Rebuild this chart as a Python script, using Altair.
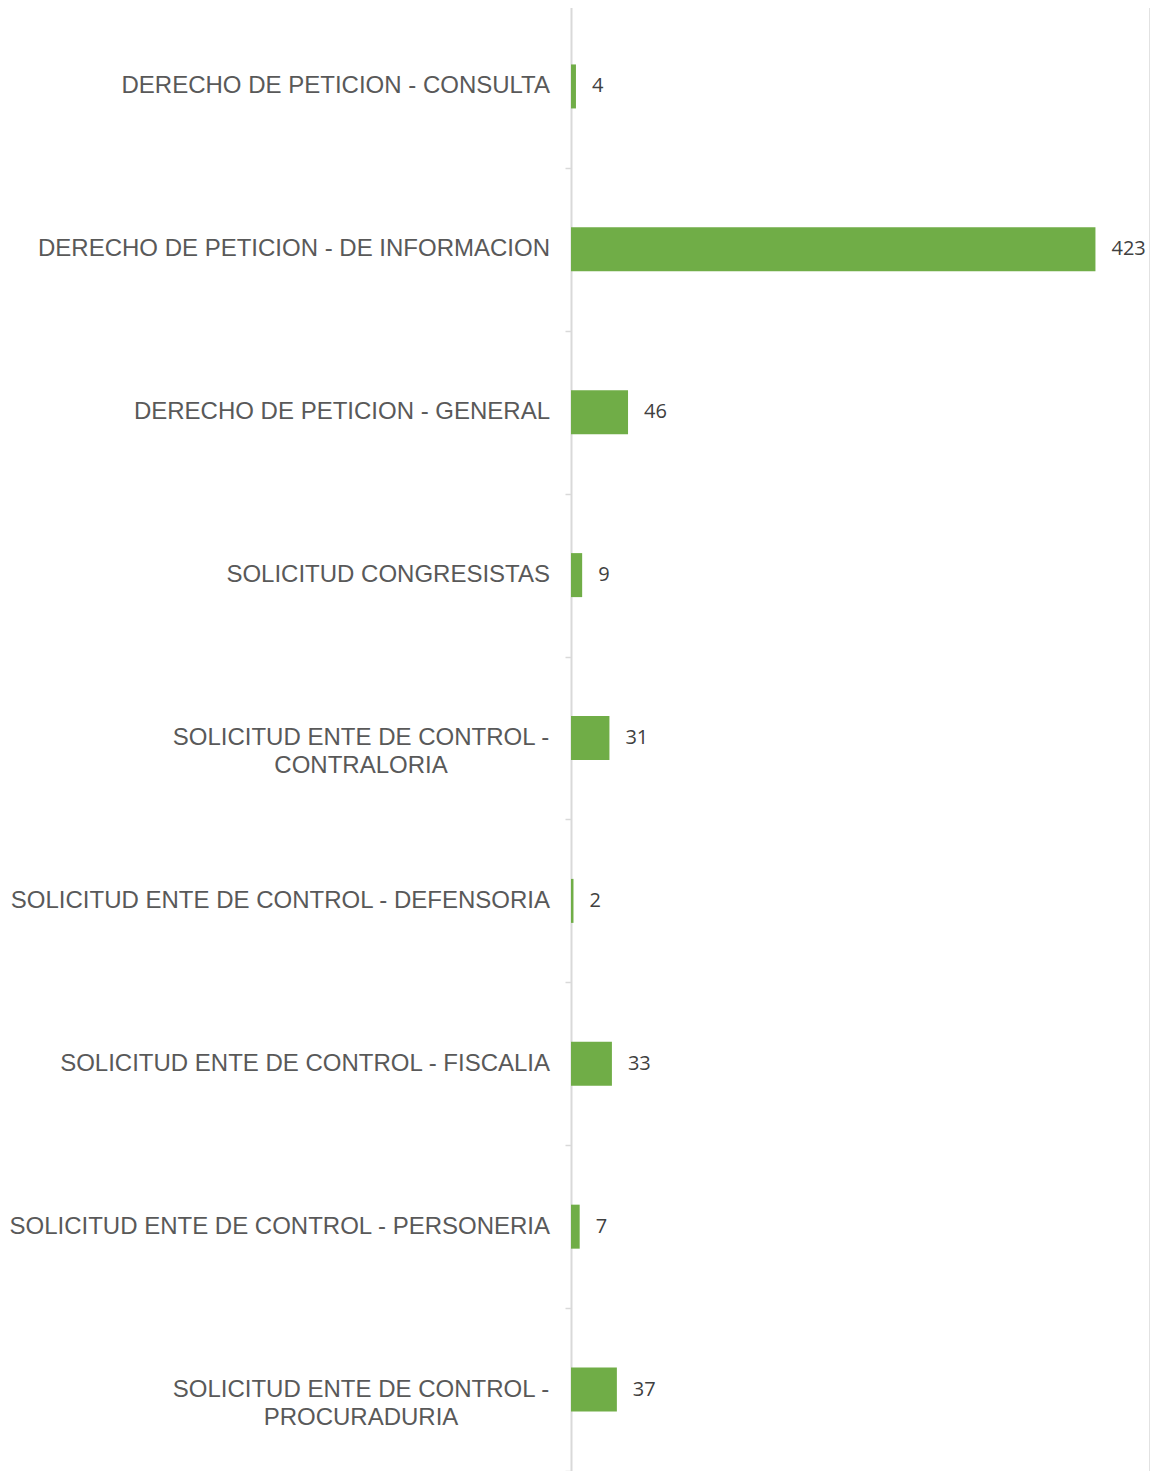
import altair as alt
import pandas as pd

categories = [
    "DERECHO DE PETICION - CONSULTA",
    "DERECHO DE PETICION - DE INFORMACION",
    "DERECHO DE PETICION - GENERAL",
    "SOLICITUD CONGRESISTAS",
    "SOLICITUD ENTE DE CONTROL -\nCONTRALORIA",
    "SOLICITUD ENTE DE CONTROL - DEFENSORIA",
    "SOLICITUD ENTE DE CONTROL - FISCALIA",
    "SOLICITUD ENTE DE CONTROL - PERSONERIA",
    "SOLICITUD ENTE DE CONTROL -\nPROCURADURIA",
]
values = [4, 423, 46, 9, 31, 2, 33, 7, 37]

df = pd.DataFrame({"cat": categories, "value": values})
df["multi"] = df["cat"].str.contains("\n")

W = 579
H = 1466

y_enc = alt.Y(
    "cat:N",
    sort=categories,
    scale=alt.Scale(paddingInner=0, paddingOuter=0),
    axis=alt.Axis(
        title=None,
        labels=False,
        domainColor="#D9D9D9",
        domainWidth=2,
        tickColor="#D9D9D9",
        tickWidth=1.5,
        tickSize=6,
        tickBand="extent",
    ),
)
x_enc = alt.X("value:Q", scale=alt.Scale(domain=[0, 467], nice=False), axis=None)

base = alt.Chart(df)

bars = base.mark_bar(color="#70AD47", height=44).encode(x=x_enc, y=y_enc)

vals = base.mark_text(
    align="left", baseline="middle", dx=16, font="Open Sans", fontSize=20, color="#404040"
).encode(x=x_enc, y=y_enc, text="value:Q")

single = base.transform_filter("!datum.multi").mark_text(
    align="right", baseline="middle", font="Liberation Sans", fontSize=24, color="#595959"
).encode(x=alt.value(-21), y=y_enc, text="cat:N")

multi = base.transform_filter("datum.multi").mark_text(
    align="center", baseline="middle", font="Liberation Sans", fontSize=24, color="#595959",
    lineBreak="\n", lineHeight=28,
).encode(x=alt.value(-210), y=y_enc, text="cat:N")

border = alt.Chart(pd.DataFrame({"a": [0]})).mark_rule(color="#D9D9D9", strokeWidth=1.5).encode(
    x=alt.value(W), y=alt.value(0), y2=alt.value(H)
)

chart = (
    alt.layer(bars, vals, single, multi, border)
    .properties(
        width=W,
        height=H,
        padding={"left": 563, "top": -3, "right": 0, "bottom": 0},
        autosize=alt.AutoSizeParams(type="none"),
        background="white",
    )
    .configure_view(stroke=None)
)

chart.save("out.html", embed_options={"renderer": "svg", "actions": False})
